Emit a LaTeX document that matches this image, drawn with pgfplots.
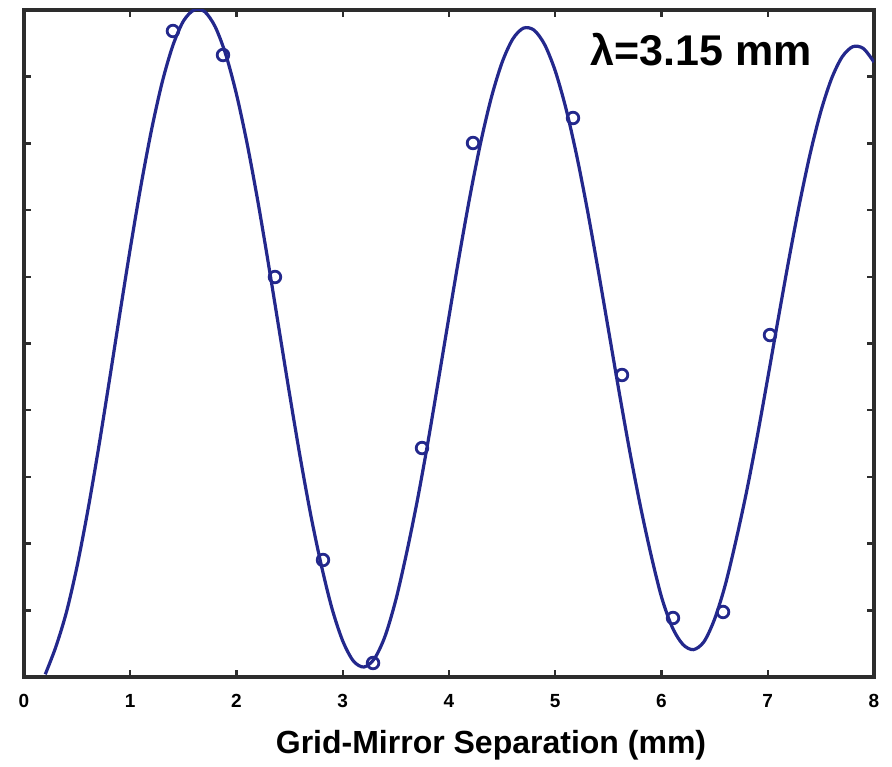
\documentclass[border=0pt]{standalone}
\usepackage{pgfplots}
\pgfplotsset{compat=1.18}
\usepackage{fontspec}
\setmainfont{Liberation Sans}
\definecolor{curveblue}{RGB}{35,40,140}
\definecolor{axgray}{RGB}{45,45,45}
\begin{document}
\begin{tikzpicture}
\path (-12pt,-43pt) rectangle (434pt,338.5pt);
\begin{axis}[
  scale only axis,
  width=425pt, height=333.5pt,
  xmin=0, xmax=8, ymin=0, ymax=1,
  xtick={0,1,...,8},
  ytick={0,0.1,...,1},
  yticklabels={},
  tick align=inside,
  major tick length=3.5pt,
  tick style={axgray, line width=1.2pt},
  axis line style={axgray, line width=1.6pt},
  /pgf/number format/assume math mode=true,
  xticklabel style={font=\bfseries\fontsize{9.5}{11}\selectfont, yshift=-5pt},
  xlabel={Grid-Mirror Separation (mm)},
  every axis x label/.style={at={(axis description cs:0.5,0)}, anchor=center, yshift=-34pt, xshift=21pt, font=\bfseries\fontsize{16}{19}\selectfont},
  clip=true,
]
\addplot[curveblue, line width=1.6pt, smooth] coordinates {
(0.2,0.004) (0.3,0.0453) (0.4,0.0976) (0.5,0.1665) (0.6,0.2490) (0.7,0.3415)
(0.8,0.4410) (0.9,0.5426) (1.0,0.6422) (1.1,0.7361) (1.2,0.8202) (1.3,0.8913)
(1.4,0.9463) (1.5,0.9833) (1.6,1.0) (1.7,0.9976) (1.8,0.9747) (1.9,0.9327)
(2.0,0.8735) (2.1,0.7996) (2.2,0.7140) (2.3,0.6199) (2.4,0.5218) (2.5,0.4236)
(2.6,0.3290) (2.7,0.2420) (2.8,0.1663) (2.9,0.1020) (3.0,0.0540) (3.1,0.0240)
(3.2,0.0150) (3.3,0.0280) (3.4,0.0620) (3.5,0.1160) (3.6,0.1853) (3.7,0.2632)
(3.8,0.3506) (3.9,0.4447) (4.0,0.5405) (4.1,0.6347) (4.2,0.7233) (4.3,0.8027)
(4.4,0.8697) (4.5,0.9216) (4.6,0.9565) (4.7,0.9728) (4.8,0.9699) (4.9,0.9482)
(5.0,0.9086) (5.1,0.8527) (5.2,0.7830) (5.3,0.7022) (5.4,0.6135) (5.5,0.5211)
(5.6,0.4284) (5.7,0.3392) (5.8,0.2573) (5.9,0.1840) (6.0,0.1200) (6.1,0.0750)
(6.2,0.0490) (6.3,0.0410) (6.4,0.0530) (6.5,0.0870) (6.6,0.1380) (6.7,0.2041)
(6.8,0.2775) (6.9,0.3598) (7.0,0.4483) (7.1,0.5385) (7.2,0.6271) (7.3,0.7105)
(7.4,0.7852) (7.5,0.8482) (7.6,0.8970) (7.7,0.9297) (7.8,0.9450) (7.9,0.9423)
(8.0,0.9218)
};
\addplot[only marks, mark=o, mark size=2.9pt, curveblue, mark options={line width=1.4pt}] coordinates {
(1.402,0.9685) (1.873,0.9325) (2.362,0.5997) (2.814,0.1754) (3.285,0.0210)
(3.746,0.3433) (4.226,0.8006) (5.167,0.8381) (5.628,0.4528) (6.108,0.0885)
(6.579,0.0975) (7.021,0.5127)
};
\node[anchor=west, font=\bfseries\fontsize{21.5}{24}\selectfont, inner sep=0pt] at (axis cs:5.33,0.94) {λ=3.15 mm};
\end{axis}
\end{tikzpicture}
\end{document}
